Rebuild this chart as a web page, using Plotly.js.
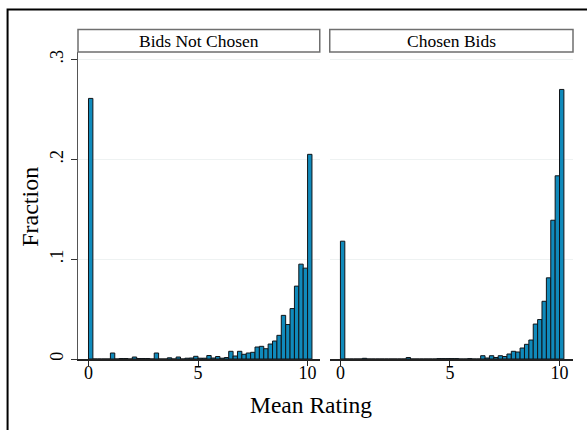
<!DOCTYPE html>
<html>
<head>
<meta charset="utf-8">
<script src="https://cdn.plot.ly/plotly-3.0.1.min.js"></script>
<style>
  html, body { margin: 0; padding: 0; background: #ffffff; }
  #chart { width: 587px; height: 430px; }
</style>
</head>
<body>
<div id="chart"></div>
<script>
// Left edge of each 0.2-wide rating bin
const binLeft = [
  0.0, 0.2, 0.4, 0.6, 0.8, 1.0, 1.2, 1.4, 1.6, 1.8,
  2.0, 2.2, 2.4, 2.6, 2.8, 3.0, 3.2, 3.4, 3.6, 3.8,
  4.0, 4.2, 4.4, 4.6, 4.8, 5.0, 5.2, 5.4, 5.6, 5.8,
  6.0, 6.2, 6.4, 6.6, 6.8, 7.0, 7.2, 7.4, 7.6, 7.8,
  8.0, 8.2, 8.4, 8.6, 8.8, 9.0, 9.2, 9.4, 9.6, 9.8,
  10.0
];
const binWidth = 0.2;

// Fraction of bids in each bin
const notChosen = [
  0.261, 0, 0, 0, 0, 0.006, 0, 0.0005, 0.0005, 0,
  0.002, 0.0005, 0.0005, 0.0005, 0, 0.006, 0, 0, 0.0012, 0,
  0.002, 0, 0.0008, 0.001, 0.0027, 0.0008, 0.0008, 0.0035, 0.001, 0.0025,
  0.0008, 0.0015, 0.0077, 0.003, 0.0077, 0.0047, 0.006, 0.0067, 0.012, 0.0127,
  0.0103, 0.015, 0.018, 0.0237, 0.0437, 0.0345, 0.0505, 0.073, 0.095, 0.091,
  0.205
];
const chosen = [
  0.118, 0, 0, 0, 0, 0.0007, 0, 0, 0, 0,
  0, 0, 0, 0, 0, 0.0015, 0, 0, 0, 0,
  0, 0, 0.0004, 0.0004, 0.0004, 0.0004, 0.0004, 0, 0, 0.0004,
  0, 0, 0.0033, 0.001, 0.0033, 0.0015, 0.0033, 0.0025, 0.005, 0.0077,
  0.007, 0.011, 0.0147, 0.019, 0.035, 0.0395, 0.0578, 0.0813, 0.139, 0.1835,
  0.27
];

const panelTitles = ['Bids Not Chosen', 'Chosen Bids'];
const xTickVals = [0, 5, 10];
const xTickText = ['0', '5', '10'];
const yTickVals = [0, 0.1, 0.2, 0.3];
const yTickText = ['0', '.1', '.2', '.3'];
const xTitle = 'Mean Rating';
const yTitle = 'Fraction';

const SERIF = 'Liberation Serif, Times New Roman, serif';
const BAR_FILL = '#108abb';
const BAR_EDGE = '#101418';

function barTrace(values, xa, ya) {
  return {
    type: 'bar',
    x: binLeft,
    y: values,
    offset: 0,
    width: binWidth,
    xaxis: xa,
    yaxis: ya,
    marker: { color: BAR_FILL, line: { color: BAR_EDGE, width: 1 } },
    hoverinfo: 'x+y',
    showlegend: false
  };
}

const data = [
  barTrace(notChosen, 'x', 'y'),
  barTrace(chosen, 'x2', 'y2')
];

// Plot area geometry in pixels
const W = 587, H = 430;
const L = 77.5, R = 14, T = 51.5, B = 71;
const plotW = W - L - R, plotH = H - T - B;
const px = v => (v - L) / plotW;          // page x -> paper x
const py = v => (H - B - v) / plotH;      // page y -> paper y

const leftDom = [0, px(319.5)];
const rightDom = [px(329.5), 1];

function xAxis(dom, range) {
  return {
    domain: dom,
    range: range,
    tickvals: xTickVals,
    ticktext: xTickText,
    ticks: 'outside',
    ticklen: 5,
    tickwidth: 1,
    tickcolor: '#222',
    ticklabelstandoff: -8,
    showline: true,
    linecolor: '#222',
    linewidth: 1.5,
    showgrid: false,
    zeroline: false,
    tickfont: { family: SERIF, size: 18, color: '#000' },
    fixedrange: true
  };
}

const yCommon = {
  range: [0, 0.3075],
  tickvals: yTickVals,
  showgrid: true,
  gridcolor: '#eef2f2',
  gridwidth: 1,
  zeroline: false,
  fixedrange: true
};

const layout = {
  width: W,
  height: H,
  margin: { l: L, r: R, t: T, b: B, pad: 0 },
  paper_bgcolor: '#ffffff',
  plot_bgcolor: '#ffffff',
  bargap: 0,
  xaxis: xAxis(leftDom, [-0.479, 10.556]),
  xaxis2: xAxis(rightDom, [-0.488, 10.615]),
  yaxis: Object.assign({}, yCommon, {
    anchor: 'x',
    ticktext: yTickText,
    ticks: 'outside',
    ticklen: 6,
    tickwidth: 1,
    tickcolor: '#333',
    tickangle: -90,
    showline: true,
    linecolor: '#555',
    linewidth: 1.5,
    tickfont: { family: SERIF, size: 18, color: '#000' }
  }),
  yaxis2: Object.assign({}, yCommon, {
    anchor: 'x2',
    showticklabels: false,
    ticks: '',
    showline: false
  }),
  shapes: [
    // outer frame
    { type: 'rect', xref: 'paper', yref: 'paper',
      x0: px(7), x1: px(600), y0: py(445), y1: py(9),
      line: { color: '#000', width: 2 }, fillcolor: 'rgba(0,0,0,0)', layer: 'above' },
    // panel headers
    { type: 'rect', xref: 'paper', yref: 'paper',
      x0: leftDom[0], x1: leftDom[1], y0: 1, y1: py(29),
      line: { color: '#6f6f6f', width: 1.5 }, fillcolor: '#ffffff' },
    { type: 'rect', xref: 'paper', yref: 'paper',
      x0: rightDom[0], x1: rightDom[1], y0: 1, y1: py(29),
      line: { color: '#6f6f6f', width: 1.5 }, fillcolor: '#ffffff' }
  ],
  annotations: [
    { text: panelTitles[0], xref: 'paper', yref: 'paper',
      x: (leftDom[0] + leftDom[1]) / 2, y: py(40),
      xanchor: 'center', yanchor: 'middle', showarrow: false,
      font: { family: SERIF, size: 17.5, color: '#000' } },
    { text: panelTitles[1], xref: 'paper', yref: 'paper',
      x: (rightDom[0] + rightDom[1]) / 2, y: py(40),
      xanchor: 'center', yanchor: 'middle', showarrow: false,
      font: { family: SERIF, size: 17.5, color: '#000' } },
    { text: xTitle, xref: 'paper', yref: 'paper',
      x: px(311), y: py(405),
      xanchor: 'center', yanchor: 'middle', showarrow: false,
      font: { family: SERIF, size: 23.5, color: '#000' } },
    { text: yTitle, xref: 'paper', yref: 'paper',
      x: px(30), y: py(207), textangle: -90,
      xanchor: 'center', yanchor: 'middle', showarrow: false,
      font: { family: SERIF, size: 24, color: '#000' } }
  ]
};

Plotly.newPlot('chart', data, layout, { displayModeBar: false, staticPlot: true });
</script>
</body>
</html>
